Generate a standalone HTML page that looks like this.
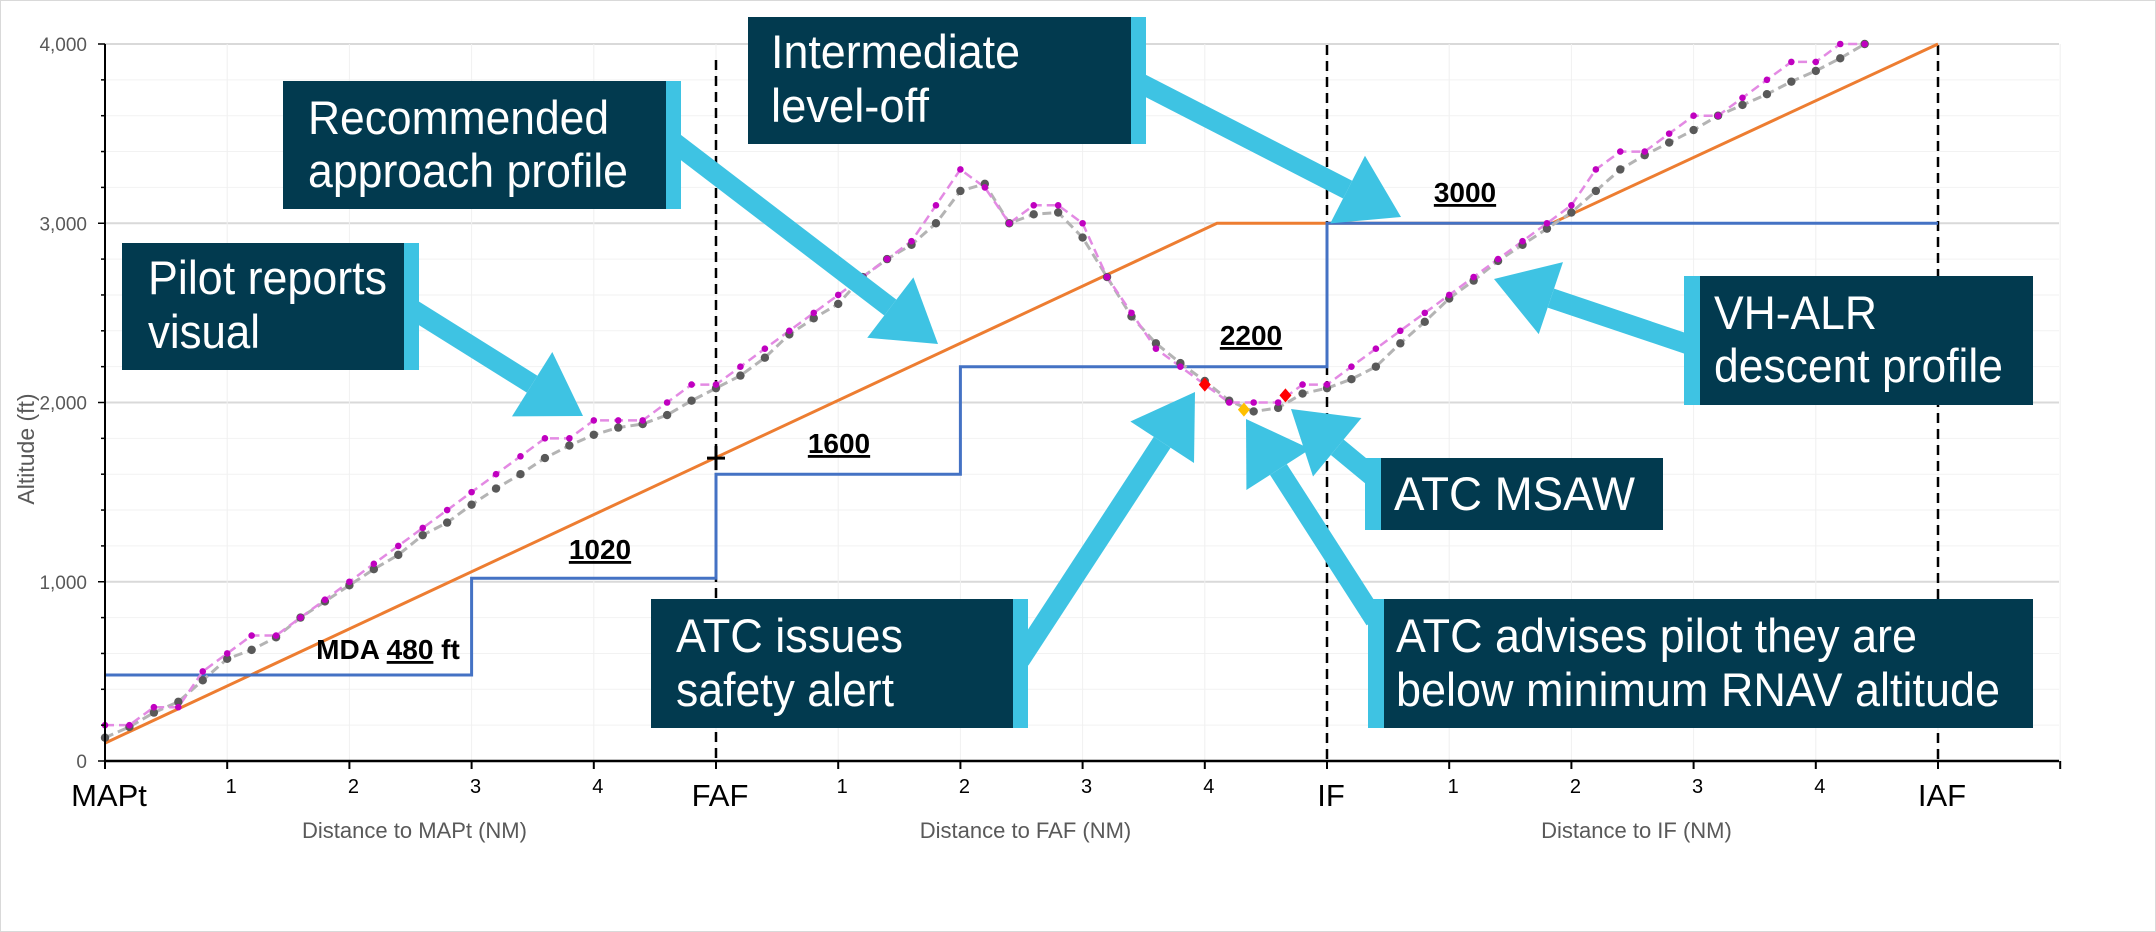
<!DOCTYPE html>
<html><head><meta charset="utf-8"><style>
html,body{margin:0;padding:0;background:#fff;}
svg{display:block;font-family:"Liberation Sans",sans-serif;}
</style></head><body>
<svg id="chart" width="2156" height="932" viewBox="0 0 2156 932" xmlns="http://www.w3.org/2000/svg">
<rect x="0.5" y="0.5" width="2155" height="931" fill="#fff" stroke="#d9d9d9"/>
<g id="grid"></g>
<g id="marks"></g>
<g id="axes"></g>
<g id="notes"></g>
</svg>
<script>
const profileX = [0,0.2,0.4,0.6,0.8,1.0,1.2,1.4,1.6,1.8,2.0,2.2,2.4,2.6,2.8,3.0,3.2,3.4,3.6,3.8,4.0,4.2,4.4,4.6,4.8,5.0,5.2,5.4,5.6,5.8,6.0,6.2,6.4,6.6,6.8,7.0,7.2,7.4,7.6,7.8,8.0,8.2,8.4,8.6,8.8,9.0,9.2,9.4,9.6,9.8,10.0,10.2,10.4,10.6,10.8,11.0,11.2,11.4,11.6,11.8,12.0,12.2,12.4,12.6,12.8,13.0,13.2,13.4,13.6,13.8,14.0,14.2,14.4];
const radarAlt = [130,190,270,330,450,570,620,690,800,890,980,1070,1150,1260,1330,1430,1520,1600,1690,1760,1820,1860,1880,1930,2010,2080,2150,2250,2380,2470,2550,2700,2800,2880,3000,3180,3220,3000,3050,3060,2920,2700,2480,2330,2220,2120,2010,1950,1970,2050,2080,2130,2200,2330,2450,2580,2680,2790,2880,2970,3060,3180,3300,3380,3450,3520,3600,3660,3720,3790,3850,3920,4000];
const reportedAlt = [200,200,300,300,500,600,700,700,800,900,1000,1100,1200,1300,1400,1500,1600,1700,1800,1800,1900,1900,1900,2000,2100,2100,2200,2300,2400,2500,2600,2700,2800,2900,3100,3300,3200,3000,3100,3100,3000,2700,2500,2300,2200,2100,2000,2000,2000,2100,2100,2200,2300,2400,2500,2600,2700,2800,2900,3000,3100,3300,3400,3400,3500,3600,3600,3700,3800,3900,3900,4000,4000];
const stepX = [0,3,3,5,5,7,7,10,10,15];
const stepAlt = [480,480,1020,1020,1600,1600,2200,2200,3000,3000];
const recX = [0,9.1,11.84,15];
const recAlt = [100,3000,3000,4000];
const alertX = [9.0,9.66];
const alertAlt = [2100,2040];
const advisoryX = [9.32];
const advisoryAlt = [1960];
const yTicks = [0,1000,2000,3000,4000];
const yTickLabels = ["0","1,000","2,000","3,000","4,000"];
const fixX = [0,5,10,15];
const fixLabels = ["MAPt","FAF","IF","IAF"];
const subTickLabels = ["1","2","3","4"];

const NS="http://www.w3.org/2000/svg";
const X0=105, PXNM=122.2, Y0=761, PXFT=717/4000;
const xs=v=>X0+v*PXNM, ys=v=>Y0-v*PXFT;
function mk(tag,attrs,parent,text){const e=document.createElementNS(NS,tag);for(const k in attrs)e.setAttribute(k,attrs[k]);if(text!==undefined)e.textContent=text;parent.appendChild(e);return e;}
const grid=document.getElementById('grid'),marks=document.getElementById('marks'),axes=document.getElementById('axes'),notes=document.getElementById('notes');

for(let f=200;f<=4000;f+=200){const g=mk('line',{x1:X0,x2:2059,y1:ys(f),y2:ys(f),stroke:f%1000?'#f2f2f2':'#d9d9d9','stroke-width':f%1000?1:2},grid);
}
for(let n=1;n<=16;n++){const g=mk('line',{x1:xs(n),x2:xs(n),y1:ys(4000),y2:Y0,stroke:'#f0f0f0','stroke-width':1},grid);
}

for(let i=1;i<fixX.length;i++){const l=mk('line',{x1:xs(fixX[i]),x2:xs(fixX[i]),y1:i==1?60:45,y2:Y0,stroke:'#000','stroke-width':2.5,'stroke-dasharray':'10,6'},marks);
}

const pts=(X,Y)=>X.map((x,i)=>xs(x).toFixed(1)+','+ys(Y[i]).toFixed(1)).join(' ');
let p=mk('polyline',{points:pts(recX,recAlt),fill:'none',stroke:'#ed7d31','stroke-width':3},marks);

p=mk('polyline',{points:pts(stepX,stepAlt),fill:'none',stroke:'#4472c4','stroke-width':3},marks);

p=mk('polyline',{points:pts(profileX.slice(0,radarAlt.length),radarAlt),fill:'none',stroke:'#b4b4b4','stroke-width':3,'stroke-dasharray':'9,5'},marks);

p=mk('polyline',{points:pts(profileX.slice(0,reportedAlt.length),reportedAlt),fill:'none',stroke:'#e38ae3','stroke-width':2.5,'stroke-dasharray':'9,5'},marks);

radarAlt.forEach((v,i)=>{const c=mk('circle',{cx:xs(profileX[i]),cy:ys(v),r:4.2,fill:'#595959'},marks);
});
reportedAlt.forEach((v,i)=>{const c=mk('circle',{cx:xs(profileX[i]),cy:ys(v),r:3.3,fill:'#c000c0'},marks);
});
function diamond(x,y,col,name){const d=mk('polygon',{points:`${x},${y-7} ${x+6},${y} ${x},${y+7} ${x-6},${y}`,fill:col},marks);
}
alertX.forEach((x,i)=>diamond(xs(x),ys(alertAlt[i]),'#ff0000','msaw-alert-point'));
advisoryX.forEach((x,i)=>diamond(xs(x),ys(advisoryAlt[i]),'#ffc000','advisory-point'));
const cx=xs(5),cy=ys(1690);
let cr=mk('path',{d:`M${cx-9},${cy} L${cx+9},${cy} M${cx},${cy-12} L${cx},${cy+12}`,stroke:'#000','stroke-width':3},marks);


let a=mk('line',{x1:X0,x2:X0,y1:ys(4000),y2:Y0,stroke:'#000','stroke-width':2},axes);

a=mk('line',{x1:X0,x2:2059,y1:Y0,y2:Y0,stroke:'#000','stroke-width':2.5},axes);

for(let f=0;f<=4000;f+=200){const t=mk('line',{x1:X0-(f%1000?4:7),x2:X0,y1:ys(f),y2:ys(f),stroke:'#000','stroke-width':1.5},axes);
}
yTicks.forEach((v,i)=>{const t=mk('text',{x:87,y:ys(v)+7,'text-anchor':'end','font-size':19,fill:'#595959'},axes,yTickLabels[i]);
});
for(let n=0;n<=16;n++){const t=mk('line',{x1:xs(n),x2:xs(n),y1:Y0,y2:Y0+8,stroke:'#000','stroke-width':2},axes);
}
fixX.forEach((x,i)=>{const t=mk('text',{x:xs(x)+4,y:806,'text-anchor':'middle','font-size':31,fill:'#000'},axes,fixLabels[i]);
});
for(let s=0;s<3;s++)subTickLabels.forEach((l,i)=>{const t=mk('text',{x:xs(s*5+i+1)+4,y:793,'text-anchor':'middle','font-size':20,fill:'#000'},axes,l);
});
[["Distance to MAPt (NM)",2.5,'x-axis-title-mapt'],["Distance to FAF (NM)",7.5,'x-axis-title-faf'],["Distance to IF (NM)",12.5,'x-axis-title-if']].forEach(d=>{
const t=mk('text',{x:xs(d[1])+4,y:838,'text-anchor':'middle','font-size':22,fill:'#595959'},axes,d[0]);
});
let yt=mk('text',{x:0,y:0,transform:'translate(34,449) rotate(-90)','text-anchor':'middle','font-size':23,fill:'#595959'},axes,'Altitude (ft)');


function vlabel(txt,x,y,name){const t=mk('text',{x:x,y:y,'text-anchor':'middle','font-size':28,'font-weight':'bold',fill:'#000','text-decoration':'underline'},notes,txt);
}
vlabel('3000',1465,202,'label-3000');vlabel('2200',1251,345,'label-2200');vlabel('1600',839,453,'label-1600');vlabel('1020',600,559,'label-1020');
let md=mk('text',{x:388,y:659,'text-anchor':'middle','font-size':28,'font-weight':'bold',fill:'#000'},notes);

mk('tspan',{},md,'MDA ');mk('tspan',{'text-decoration':'underline'},md,'480');mk('tspan',{},md,' ft');

function arrow(x1,y1,x2,y2,name){const dx=x2-x1,dy=y2-y1,L=Math.hypot(dx,dy),ux=dx/L,uy=dy/L,px=-uy,py=ux,H=60,W=38;
const bx=x2-ux*H,by=y2-uy*H;
const g=mk('g',{},notes);
mk('line',{x1:x1,y1:y1,x2:bx,y2:by,stroke:'#3ec3e3','stroke-width':20},g);
mk('polygon',{points:`${x2},${y2} ${bx+px*W},${by+py*W} ${bx-px*W},${by-py*W}`,fill:'#3ec3e3'},g);}
arrow(412,309,583,416,'arrow-pilot-visual');
arrow(675,143,938,344,'arrow-recommended');
arrow(1140,83,1401,217,'arrow-level-off');
arrow(1020,660,1195,392,'arrow-safety-alert');
arrow(1372,476,1291,409,'arrow-msaw');
arrow(1375,620,1246,419,'arrow-advises');
arrow(1690,345,1494,279,'arrow-descent-profile');

function box(x,y,w,h,stripLeft,lines,tx,bases,widths,name){const g=mk('g',{},notes);
if(stripLeft){mk('rect',{x:x-16,y:y,width:16,height:h,fill:'#3ec3e3'},g);}else{mk('rect',{x:x+w,y:y,width:15,height:h,fill:'#3ec3e3'},g);}
mk('rect',{x:x,y:y,width:w,height:h,fill:'#023a4f'},g);
lines.forEach((l,i)=>{mk('text',{x:tx,y:bases[i],'font-size':47,fill:'#fff',textLength:widths[i],lengthAdjust:'spacingAndGlyphs'},g,l);});}
box(748,17,383,127,false,["Intermediate","level-off"],771,[68,122],[249,158],'callout-intermediate-level-off');
box(283,81,383,128,false,["Recommended","approach profile"],308,[134,187],[301,320],'callout-recommended-profile');
box(122,243,282,127,false,["Pilot reports","visual"],148,[294,348],[239,112],'callout-pilot-reports-visual');
box(651,599,362,129,false,["ATC issues","safety alert"],676,[652,706],[227,218],'callout-atc-safety-alert');
box(1700,276,333,129,true,["VH-ALR","descent profile"],1714,[329,382],[163,289],'callout-vh-alr-profile');
box(1381,458,282,72,true,["ATC MSAW"],1394,[510],[241],'callout-atc-msaw');
box(1384,599,649,129,true,["ATC advises pilot they are","below minimum RNAV altitude"],1396,[652,706],[521,604],'callout-atc-advises');
</script>
</body></html>
